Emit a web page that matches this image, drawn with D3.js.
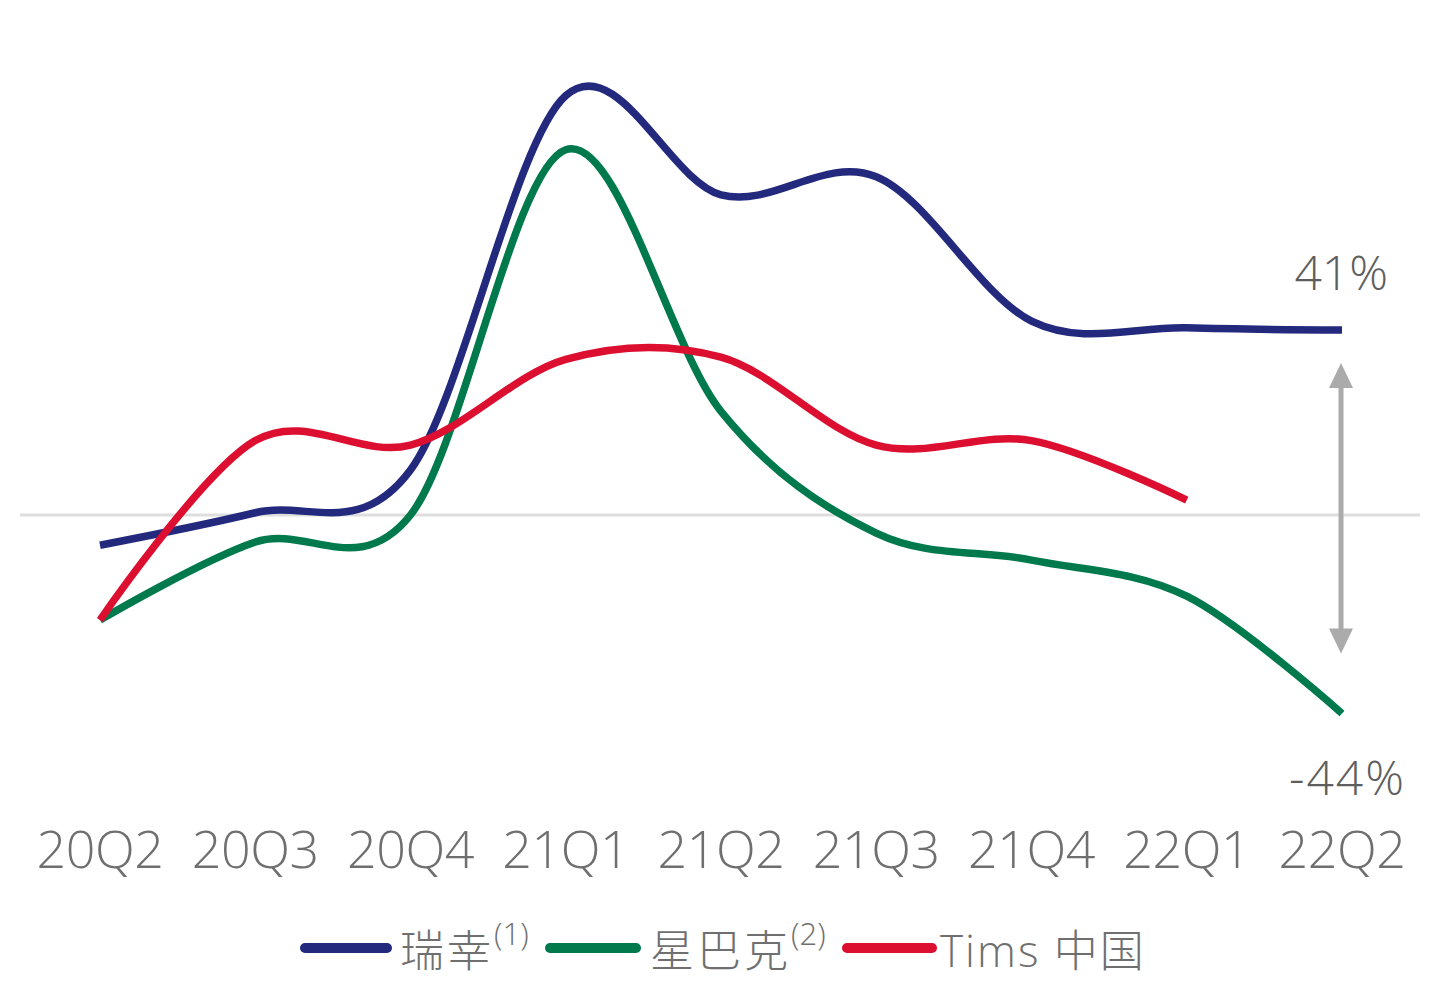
<!DOCTYPE html>
<html>
<head>
<meta charset="utf-8">
<script src="https://cdn.jsdelivr.net/npm/d3@7"></script>
<style>
  html, body { margin: 0; padding: 0; background: #fff; }
  svg { display: block; }
</style>
</head>
<body>
<svg id="chart" width="1434" height="990"></svg>
<script>
// ---- data (percent) ----
const quarters = ["20Q2","20Q3","20Q4","21Q1","21Q2","21Q3","21Q4","22Q1","22Q2"];
const luckin    = [-6.7, 0.5, 10, 93, 71, 75, 43, 41.5, 41];
const starbucks = [-23.3, -6, 0, 81, 23, -4, -10, -18, -44];
const tims      = [-23.3, 16.5, 15.5, 34.5, 35, 15.5, 16.5, 3.3];
const seriesNames = ["瑞幸", "星巴克", "Tims 中国"];
const seriesSup = ["(1)", "(2)", ""];
const endLabels = ["41%", "-44%"];

const colors = ["#232a7e", "#007a4c", "#dc0f30"];
const textColor = "#6f6f6f";

const svg = d3.select("#chart");

const x = d3.scalePoint().domain(quarters).range([100, 1342]);
const y = d3.scaleLinear().domain([-50, 100]).range([740.5, 64]);

// zero line
svg.append("line")
  .attr("x1", 20).attr("x2", 1420)
  .attr("y1", y(0)).attr("y2", y(0))
  .attr("stroke", "#dedede").attr("stroke-width", 3);

const line = d3.line()
  .x((d, i) => x(quarters[i]))
  .y(d => y(d))
  .curve(d3.curveCardinal.tension(0));

const all = [luckin, starbucks, tims];
[0, 1, 2].forEach(k => {
  svg.append("path")
    .datum(all[k])
    .attr("d", line)
    .attr("fill", "none")
    .attr("stroke", colors[k])
    .attr("stroke-width", 7.5)
    .attr("stroke-linecap", "butt")
    .attr("stroke-linejoin", "round");
});

// x labels
svg.append("g").selectAll("text")
  .data(quarters).join("text")
  .attr("x", d => x(d))
  .attr("y", 868)
  .attr("text-anchor", "middle")
  .attr("font-family", "'Open Sans', 'Noto Sans', sans-serif")
  .attr("font-weight", 300)
  .attr("font-size", 52)
  .attr("letter-spacing", -0.5)
  .attr("fill", textColor)
  .text(d => d);

// double arrow between the two end values
const ax = x("22Q2") - 1;
const aTop = y(luckin[luckin.length - 1]) + 33;
const aBot = y(starbucks[starbucks.length - 1]) - 60;
const arrowColor = "#ababab";
svg.append("line")
  .attr("x1", ax).attr("x2", ax)
  .attr("y1", aTop + 20).attr("y2", aBot - 20)
  .attr("stroke", arrowColor).attr("stroke-width", 5);
svg.append("path")
  .attr("d", `M${ax},${aTop} L${ax - 12},${aTop + 25} L${ax + 12},${aTop + 25} Z`)
  .attr("fill", arrowColor);
svg.append("path")
  .attr("d", `M${ax},${aBot} L${ax - 12},${aBot - 25} L${ax + 12},${aBot - 25} Z`)
  .attr("fill", arrowColor);

// end labels
svg.append("text")
  .attr("x", x("22Q2") + 46).attr("y", y(41) - 40)
  .attr("text-anchor", "end")
  .attr("font-family", "'Open Sans', 'Noto Sans', sans-serif")
  .attr("font-weight", 300)
  .attr("font-size", 48)
  .attr("fill", "#5e5e5e")
  .text(endLabels[0]);
svg.append("text")
  .attr("x", x("22Q2") + 64).attr("y", y(-44) + 82)
  .attr("text-anchor", "end")
  .attr("font-family", "'Open Sans', 'Noto Sans', sans-serif")
  .attr("font-weight", 300)
  .attr("font-size", 48)
  .attr("letter-spacing", 2)
  .attr("fill", "#5e5e5e")
  .text(endLabels[1]);

// legend
const legendY = 948;
const legendItems = [
  { sw: [305, 387], tx: 400 },
  { sw: [550, 636], tx: 650 },
  { sw: [847, 932], tx: 940 }
];
legendItems.forEach((it, k) => {
  svg.append("line")
    .attr("x1", it.sw[0]).attr("x2", it.sw[1])
    .attr("y1", legendY).attr("y2", legendY)
    .attr("stroke", colors[k]).attr("stroke-width", 10)
    .attr("stroke-linecap", "round");
  const t = svg.append("text")
    .attr("x", it.tx).attr("y", legendY + 19)
    .attr("font-family", "'Open Sans', 'Noto Sans CJK SC', sans-serif")
    .attr("font-weight", 300)
    .attr("font-size", 44)
    .attr("fill", textColor);
  t.append("tspan")
    .attr("font-family", k === 2 ? "'Open Sans', 'Noto Sans CJK SC', sans-serif" : "'Noto Sans CJK SC', sans-serif")
    .attr("letter-spacing", k === 2 ? 2 : 3)
    .text(seriesNames[k]);
  if (seriesSup[k]) {
    t.append("tspan")
      .attr("font-size", 31)
      .attr("dy", -22)
      .attr("font-family", "'Open Sans', sans-serif")
      .text(seriesSup[k]);
  }
});
</script>
</body>
</html>
